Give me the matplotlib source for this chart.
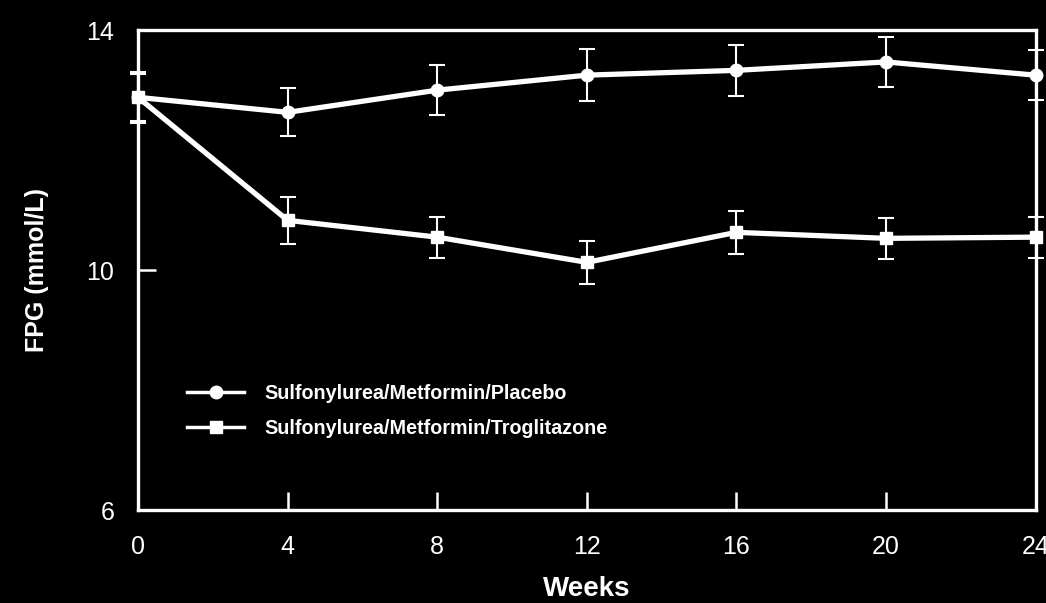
import matplotlib

matplotlib.use("Agg")

import matplotlib.pyplot as plt  # noqa: E402
from matplotlib.lines import Line2D  # noqa: E402

BG_COLOR = "#000000"
FG_COLOR = "#FFFFFF"

weeks = [0, 4, 8, 12, 16, 20, 24]
placebo = [12.88, 12.63, 13.0, 13.25, 13.33, 13.47, 13.25]
placebo_err = [0.43, 0.40, 0.42, 0.43, 0.42, 0.42, 0.42]
trog = [12.88, 10.83, 10.55, 10.13, 10.63, 10.53, 10.55]
trog_err = [0.39, 0.39, 0.34, 0.36, 0.36, 0.34, 0.34]

x_ticks = [0, 4, 8, 12, 16, 20, 24]
y_ticks = [6, 10, 14]

plt.rcParams["font.family"] = ["Liberation Sans", "DejaVu Sans"]

fig = plt.figure(figsize=(10.46, 6.03), dpi=100, facecolor=BG_COLOR)
ax = fig.add_axes([0.132, 0.154, 0.858, 0.796])
ax.set_facecolor(BG_COLOR)

common = dict(color=FG_COLOR, linewidth=3.8, elinewidth=1.5, capsize=6,
              capthick=1.5, clip_on=False, zorder=3)
ax.errorbar(weeks, placebo, yerr=placebo_err, marker="o", markersize=9, **common)
ax.errorbar(weeks, trog, yerr=trog_err, marker="s", markersize=9, **common)

ax.set_xlim(0, 24)
ax.set_ylim(6, 14)
ax.set_xticks(x_ticks)
ax.set_yticks(y_ticks)
ax.tick_params(axis="both", direction="in", length=13, width=1.8,
               colors=FG_COLOR, labelsize=18, pad=17)
ax.tick_params(axis="x", pad=18)
for spine in ax.spines.values():
    spine.set_color(FG_COLOR)
    spine.set_linewidth(2.4)

ax.set_xlabel("Weeks", color=FG_COLOR, fontsize=20, fontweight="bold", labelpad=12)
ax.set_ylabel("FPG (mmol/L)", color=FG_COLOR, fontsize=18, fontweight="bold", labelpad=27)

handles = [
    Line2D([], [], color=FG_COLOR, linewidth=2.5, marker="o", markersize=9),
    Line2D([], [], color=FG_COLOR, linewidth=2.5, marker="s", markersize=9),
]
leg = ax.legend(
    handles,
    ["Sulfonylurea/Metformin/Placebo", "Sulfonylurea/Metformin/Troglitazone"],
    loc="upper left", bbox_to_anchor=(0.035, 0.30), frameon=False,
    handlelength=2.9, labelspacing=0.8, handletextpad=1.0,
    prop={"size": 14.2, "weight": "bold"},
)
for text in leg.get_texts():
    text.set_color(FG_COLOR)

fig.savefig("out.png", dpi=100, facecolor=BG_COLOR)
